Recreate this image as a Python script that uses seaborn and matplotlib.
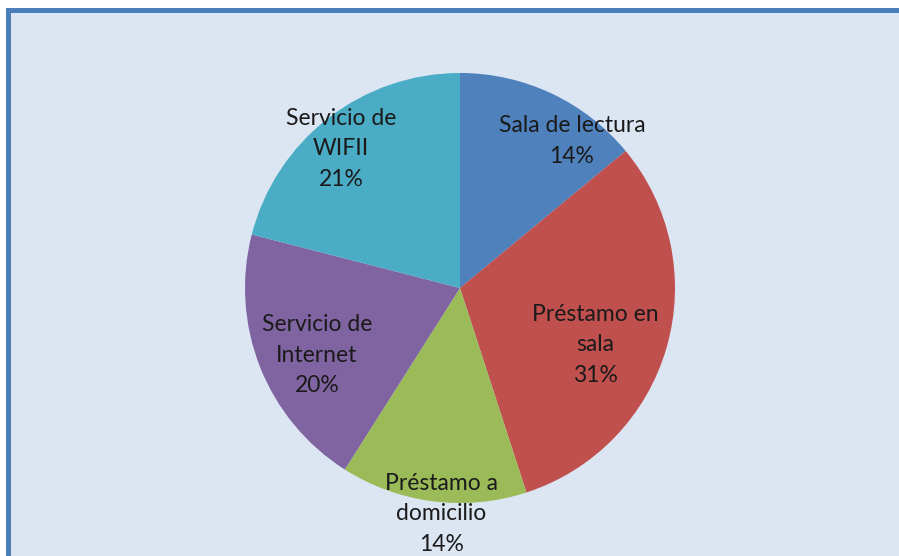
import matplotlib
matplotlib.use("Agg")
import matplotlib.pyplot as plt
from matplotlib.patches import Rectangle
import seaborn as sns

categories = ["Sala de lectura", "Préstamo en\nsala", "Préstamo a\ndomicilio",
              "Servicio de\nInternet", "Servicio de\nWIFII"]
values = [14, 31, 14, 20, 21]
colors = ["#4f81bd", "#c0504d", "#9bbb59", "#8064a2", "#4bacc6"]
# label centre offsets from the pie centre, in units of the radius
label_offsets = [(0.521, 0.684), (0.628, -0.265), (-0.088, -1.051),
                 (-0.665, -0.312), (-0.553, 0.647)]

sns.set_theme(style="white")
plt.rcParams["font.family"] = ["Lato", "DejaVu Sans"]

W, H = 899, 556
fig = plt.figure(figsize=(W / 100, H / 100), dpi=100)
fig.patch.set_facecolor("white")
ax = fig.add_axes([0, 0, 1, 1])

# chart area background and frame (top & left edges visible)
ax.add_patch(Rectangle((6, 0), W, H - 8, facecolor="#dce6f2", edgecolor="none", zorder=0))
ax.add_patch(Rectangle((6, 0), 5, H - 8, facecolor="#4a7ebb", edgecolor="none", zorder=1))
ax.add_patch(Rectangle((6, H - 13), W, 5, facecolor="#4a7ebb", edgecolor="none", zorder=1))

cx, cy, R = 460, H - 288, 215
ax.pie(values, colors=colors, startangle=90, counterclock=False,
       center=(cx, cy), radius=R, frame=True,
       wedgeprops=dict(linewidth=0))
ax.set_xlim(0, W)
ax.set_ylim(0, H)
ax.set_aspect("equal")
ax.axis("off")

for cat, val, (dx, dy) in zip(categories, values, label_offsets):
    ax.text(cx + dx * R, cy + dy * R, f"{cat}\n{val}%", ha="center", va="center",
            fontsize=16.5, color="#1a1a1a", linespacing=1.55, zorder=5)

fig.savefig("out.png", dpi=100)
